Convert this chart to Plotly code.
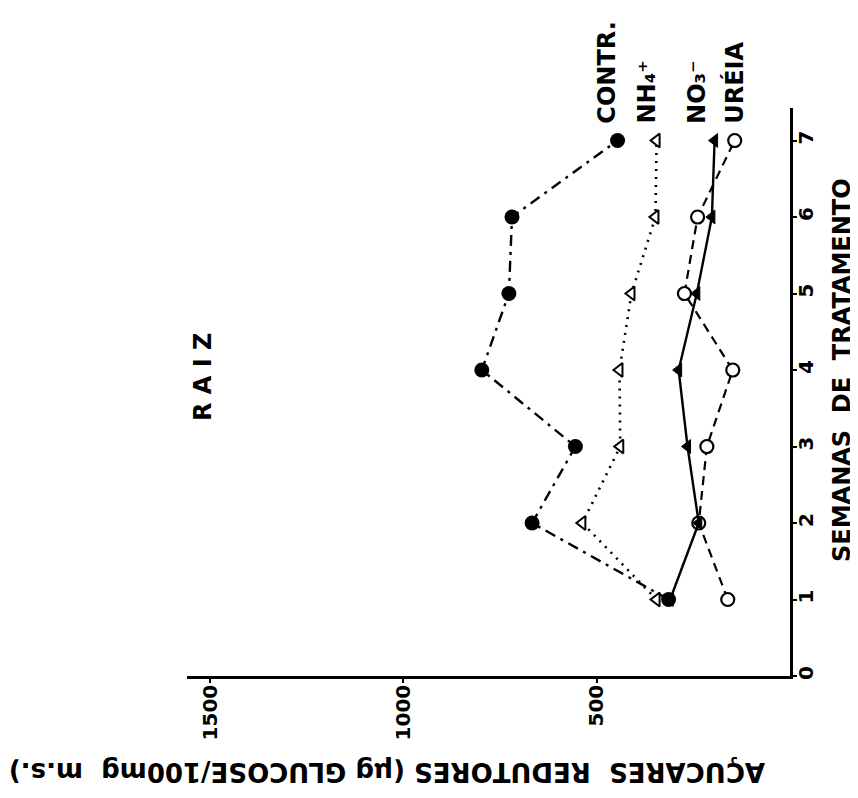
import plotly.graph_objects as go

weeks = [1, 2, 3, 4, 5, 6, 7]
contr = [314, 667, 555, 797, 727, 719, 446]
nh4 = [345, 537, 439, 441, 410, 348, 345]
no3 = [310, 236, 265, 288, 241, 202, 195]
ureia = [161, 236, 215, 148, 273, 239, 143]

series_names = ["CONTR.", "NH₄⁺", "NO₃⁻", "URÉIA"]
label_values = [452, 349, 220, 122]

week_ticks = [0, 1, 2, 3, 4, 5, 6, 7]
value_ticks = [500, 1000, 1500]

FONT = "DejaVu Sans"
fig = go.Figure()

fig.add_trace(go.Scatter(
    x=ureia, y=weeks, mode="lines+markers", cliponaxis=False,
    line=dict(color="black", width=2.2, dash="9px,6px"),
    marker=dict(symbol="circle", size=13, color="white", line=dict(color="black", width=2.2)),
))
fig.add_trace(go.Scatter(
    x=nh4, y=weeks, mode="lines+markers", cliponaxis=False,
    line=dict(color="black", width=2.6, dash="2px,6px"),
    marker=dict(symbol="triangle-left", size=12, color="white", line=dict(color="black", width=2)),
))
fig.add_trace(go.Scatter(
    x=no3, y=weeks, mode="lines+markers", cliponaxis=False,
    line=dict(color="black", width=2.4),
    marker=dict(symbol="triangle-left", size=12, color="black", line=dict(color="black", width=1)),
))
fig.add_trace(go.Scatter(
    x=contr, y=weeks, mode="lines+markers", cliponaxis=False,
    line=dict(color="black", width=2.4, dash="11px,6px,3px,6px"),
    marker=dict(symbol="circle", size=15, color="black"),
))

tickfont = dict(family=FONT, size=20, color="black", weight="bold")
fig.update_layout(
    width=858, height=798,
    margin=dict(l=179, r=76, t=100, b=130),
    paper_bgcolor="white", plot_bgcolor="white",
    showlegend=False,
    font=dict(family=FONT, color="black", size=22),
    xaxis=dict(
        range=[1559.5, 0], tickvals=value_ticks, ticktext=[str(v) for v in value_ticks],
        tickangle=-90, showgrid=False, zeroline=False,
        showline=True, linecolor="black", linewidth=2.5,
        ticks="outside", ticklen=4, tickwidth=2, tickcolor="black",
        ticklabelstandoff=-6,
        tickfont=tickfont,
    ),
    yaxis=dict(
        range=[0, 7.425], tickvals=week_ticks, ticktext=[str(v) for v in week_ticks],
        side="right", tickangle=-90, showgrid=False, zeroline=False,
        showline=True, linecolor="black", linewidth=2.5,
        ticks="outside", ticklen=4, tickwidth=2, tickcolor="black",
        ticklabelstandoff=-8,
        tickfont=tickfont,
    ),
)

annotations = []
for name, xv in zip(series_names, label_values):
    annotations.append(dict(
        x=xv, y=7.19, xref="x", yref="y", text=name, showarrow=False,
        textangle=-90, xanchor="center", yanchor="bottom", xshift=-8,
        font=dict(family=FONT, size=24, color="black", weight="bold"),
    ))
# Panel label
annotations.append(dict(
    x=195, y=798 - 369, xref="paper", yref="paper", text="R A I Z", showarrow=False,
    textangle=-90, xanchor="center", yanchor="middle",
    font=dict(family=FONT, size=24, color="black", weight="bold"),
))
# Axis titles
annotations.append(dict(
    x=834, y=798 - 362, xref="paper", yref="paper", text="SEMANAS  DE  TRATAMENTO", showarrow=False,
    textangle=-90, xanchor="center", yanchor="middle",
    font=dict(family=FONT, size=24, color="black", weight="bold"),
))
annotations.append(dict(
    x=379, y=798 - 764, xref="paper", yref="paper",
    text="AÇUCARES  REDUTORES (µg GLUCOSE/100mg  m.s.)", showarrow=False,
    textangle=180, xanchor="center", yanchor="middle",
    font=dict(family=FONT, size=26, color="black", weight="bold"),
))

pw = 858 - 179 - 76
ph = 798 - 100 - 130
for a in annotations:
    if a["xref"] == "paper":
        a["x"] = (a["x"] - 179) / pw
        a["y"] = (a["y"] - 130) / ph
fig.update_layout(annotations=annotations)

fig.write_html("out.html")
